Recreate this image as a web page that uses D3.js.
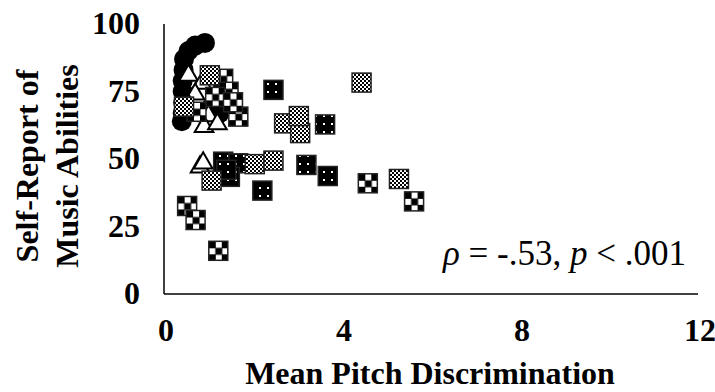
<!DOCTYPE html>
<html><head><meta charset="utf-8">
<script src="https://cdn.jsdelivr.net/npm/d3@7"></script>
<style>
html,body{margin:0;padding:0;background:#fff;}
svg{display:block;}
text{font-family:"Times New Roman","Liberation Serif",serif;fill:#000;}
</style></head>
<body>
<svg id="chart" width="715" height="392"></svg>
<script>
// ---- data ----
const xTicks = [0, 4, 8, 12];
const yTicks = [0, 25, 50, 75, 100];
const xTitle = "Mean Pitch Discrimination";
const yTitleLines = ["Self-Report of", "Music Abilities"];

const circlesX = [0.92, 0.70, 0.55, 0.45, 0.44, 0.42, 0.42, 0.43, 0.42, 0.40, 1.25, 1.05];
const circlesY = [93, 92, 90, 87, 83, 79, 75, 71, 67, 64, 67, 69];

const trianglesX = [0.55, 0.85, 0.70, 0.55, 1.00, 0.90, 1.20, 0.81, 0.88];
const trianglesY = [81, 78, 74, 70, 66, 62, 63, 47, 48.5];

const bigCheckX = [4.58, 5.62, 0.52, 0.71, 1.22, 1.33, 1.45, 1.15, 0.73, 1.67, 1.55];
const bigCheckY = [41, 34.3, 32.6, 27.4, 16, 79.7, 74.9, 73, 67.5, 65.7, 71];

const dottedX = [2.46, 3.62, 3.20, 3.68, 1.33, 1.67, 1.48, 2.21, 1.40];
const dottedY = [75.6, 62.8, 47.8, 43.7, 49, 48.4, 43.4, 38.3, 46];

const fineCheckX = [4.44, 2.70, 3.06, 3.03, 5.28, 2.04, 2.46, 1.07, 1.03, 0.45];
const fineCheckY = [78.3, 63.2, 59.6, 65.9, 42.6, 48.1, 49.4, 42, 81, 69.4];

// ---- chart ----
const svg = d3.select("#chart");
const x = d3.scaleLinear().domain([0, 12]).range([164, 698]);
const y = d3.scaleLinear().domain([0, 100]).range([294, 24]);

const defs = svg.append("defs");
// big checker
const pBig = defs.append("pattern").attr("id","bigCheck").attr("patternUnits","objectBoundingBox")
  .attr("width",1).attr("height",1);
pBig.append("rect").attr("width",20).attr("height",20).attr("fill","#fff");
[[0,0],[13,0],[6.5,6.5],[0,13],[13,13]].forEach(([a,b])=>{
  pBig.append("rect").attr("x",a).attr("y",b).attr("width",7).attr("height",7).attr("fill","#000");
});
// fine checker
const pFine = defs.append("pattern").attr("id","fineCheck").attr("patternUnits","userSpaceOnUse")
  .attr("width",4).attr("height",4);
pFine.append("rect").attr("width",4).attr("height",4).attr("fill","#fff");
pFine.append("rect").attr("width",2).attr("height",2).attr("fill","#000");
pFine.append("rect").attr("x",2).attr("y",2).attr("width",2).attr("height",2).attr("fill","#000");
// dotted black
const pDot = defs.append("pattern").attr("id","dotted").attr("patternUnits","userSpaceOnUse")
  .attr("width",8).attr("height",8);
pDot.append("rect").attr("width",8).attr("height",8).attr("fill","#000");
pDot.append("rect").attr("x",3).attr("y",3).attr("width",2).attr("height",2).attr("fill","#fff");

// axes lines
svg.append("line").attr("x1",x(0)).attr("x2",x(0)).attr("y1",y(100)).attr("y2",y(0))
  .attr("stroke","#000").attr("stroke-width",1.5);
svg.append("line").attr("x1",x(0)).attr("x2",x(12)).attr("y1",y(0)).attr("y2",y(0))
  .attr("stroke","#000").attr("stroke-width",1.5);

// tick labels
svg.selectAll(".xt").data(xTicks).enter().append("text")
  .attr("x",d=>x(d)+2).attr("y",y(0)+47).attr("text-anchor","middle")
  .attr("font-size",32).attr("font-weight","bold").text(d=>d);
svg.selectAll(".yt").data(yTicks).enter().append("text")
  .attr("x",140).attr("y",d=>y(d)+10).attr("text-anchor","end")
  .attr("font-size",32).attr("font-weight","bold").text(d=>d);

// titles
svg.append("text").attr("x",430).attr("y",384).attr("text-anchor","middle")
  .attr("font-size",32).attr("font-weight","bold").text(xTitle);
yTitleLines.forEach((t,i)=>{
  svg.append("text").attr("transform",`translate(${38+i*40},166) rotate(-90)`)
    .attr("text-anchor","middle").attr("font-size",32).attr("font-weight","bold").text(t);
});

// markers
const s = 19;
function squares(xs, ys, fill){
  svg.append("g").selectAll("rect").data(xs.map((d,i)=>[d,ys[i]])).enter().append("rect")
    .attr("x",d=>x(d[0])-s/2).attr("y",d=>y(d[1])-s/2).attr("width",s).attr("height",s)
    .attr("fill",fill).attr("stroke","#222").attr("stroke-width",1.5);
}
svg.append("g").selectAll("circle").data(circlesX.map((d,i)=>[d,circlesY[i]])).enter().append("circle")
  .attr("cx",d=>x(d[0])).attr("cy",d=>y(d[1])).attr("r",10).attr("fill","#000");
const tri = d3.symbol().type(d3.symbolTriangle).size(150);
svg.append("g").selectAll("path").data(trianglesX.map((d,i)=>[d,trianglesY[i]])).enter().append("path")
  .attr("d",tri).attr("transform",d=>`translate(${x(d[0])},${y(d[1])})`)
  .attr("fill","#fff").attr("stroke","#000").attr("stroke-width",2);
squares(bigCheckX, bigCheckY, "url(#bigCheck)");
squares(dottedX, dottedY, "url(#dotted)");
squares(fineCheckX, fineCheckY, "url(#fineCheck)");

// annotation
const ann = svg.append("text").attr("x",443).attr("y",265).attr("font-size",35);
ann.append("tspan").attr("font-style","italic").text("ρ");
ann.append("tspan").text(" = -.53, ");
ann.append("tspan").attr("font-style","italic").text("p");
ann.append("tspan").text(" < .001");
</script>
</body></html>
